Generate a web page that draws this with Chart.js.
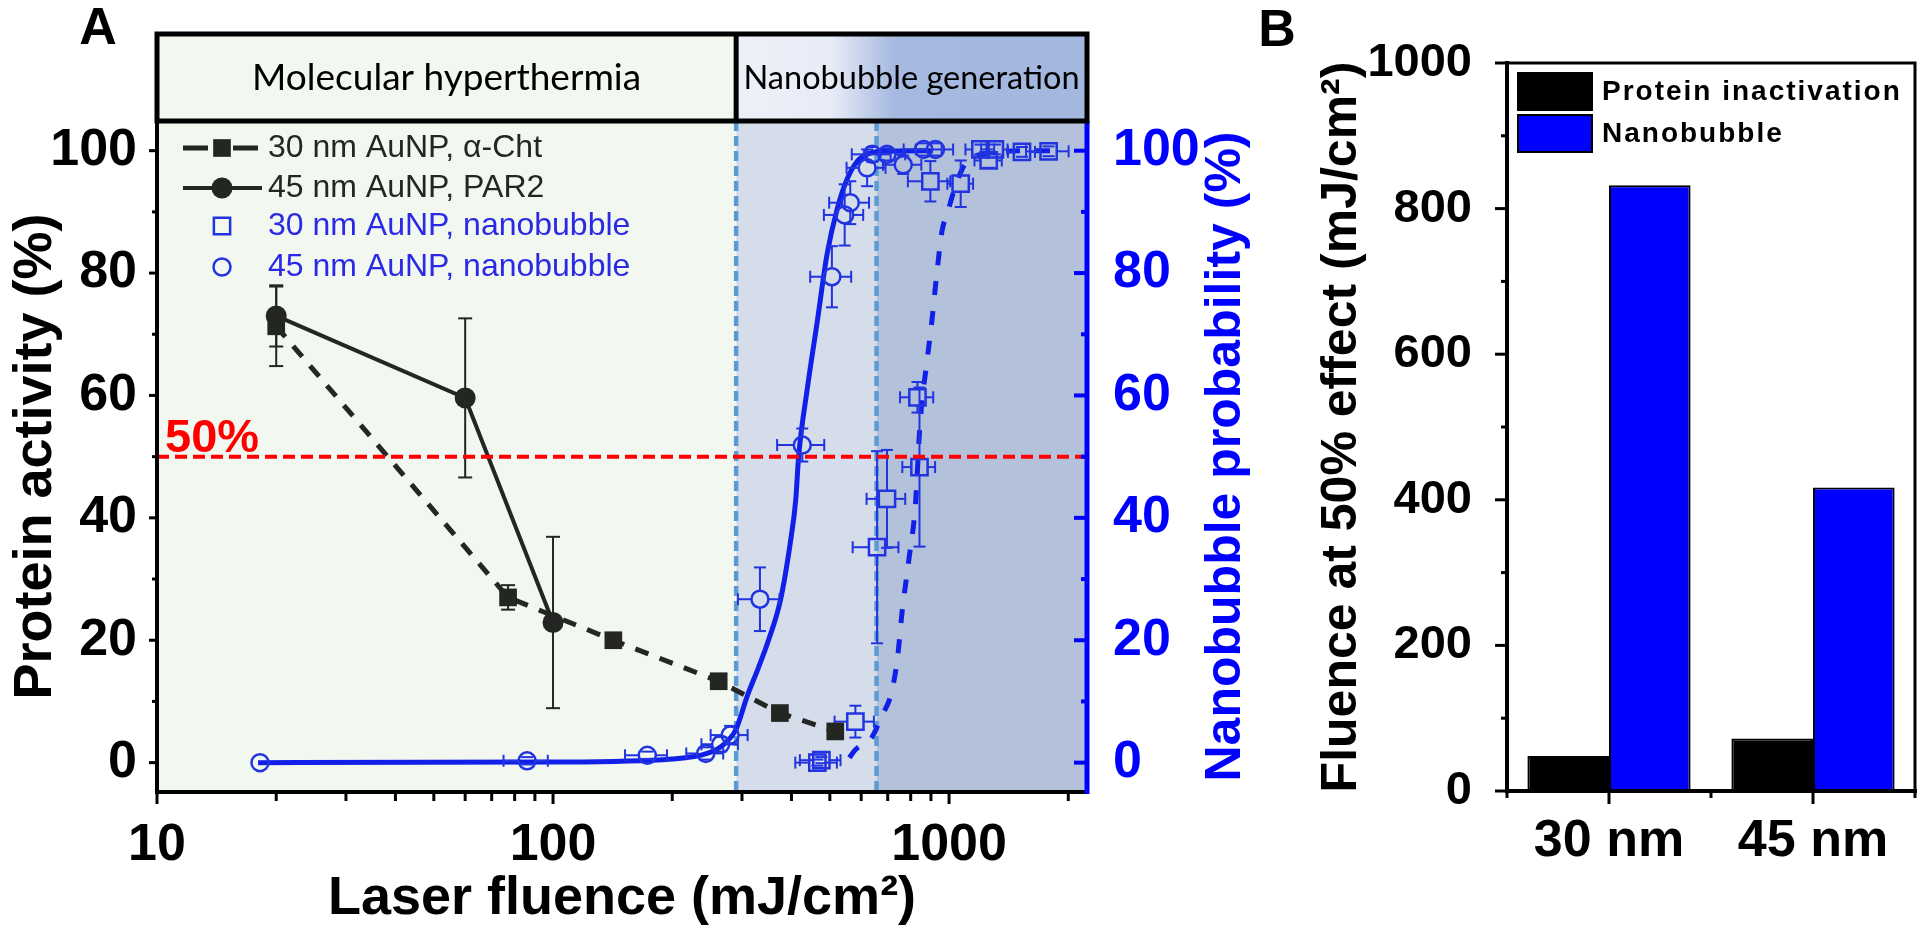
<!DOCTYPE html>
<html><head><meta charset="utf-8">
<script src="https://cdn.jsdelivr.net/npm/chart.js@4.4.1/dist/chart.umd.min.js"></script>
<style>
html,body{margin:0;padding:0;background:#fff;width:1920px;height:936px;overflow:hidden}
#a{position:absolute;left:0;top:0}
#b{position:absolute;left:1250px;top:0}
</style></head><body>
<canvas id="a" width="1270" height="936"></canvas>
<canvas id="b" width="670" height="936"></canvas>
<script>
// ---------------- DATA (panel A) ----------------
const chtX = [20, 77, 142, 262, 374, 516];            // 30 nm AuNP, alpha-Cht
const chtY = [71.3, 27.0, 20.0, 13.3, 8.1, 5.1];
const chtErr = [6.5, 2, 0.8, 0, 0, 0];

const parX = [20, 60, 100];                            // 45 nm AuNP, PAR2
const parY = [73, 59.6, 22.9];
const parErr = [5, 13, 14];

const nb30X = [465, 476, 580, 658, 697, 832, 842, 897, 1070, 1200, 1259, 1305, 1528, 1784];
const nb30Y = [0, 0.4, 6.7, 35.2, 43.1, 59.7, 48.3, 95, 94.6, 100.2, 98.4, 100.2, 99.8, 99.9];
const nb30XErr = [56, 56, 66, 87, 78, 80, 80, 110, 80, 100, 100, 100, 120, 220];
const nb30YErr = [0.5, 0.5, 2.6, 15.7, 8, 2.5, 13, 3.3, 3.8, 0.8, 1.2, 0.8, 0.8, 0.8];

const nb45X = [18.2, 86, 173, 243, 265, 280, 333, 426, 506, 545, 563, 621, 640, 697, 766, 863, 924];
const nb45Y = [0, 0.3, 1.2, 1.5, 3, 4.5, 26.7, 51.9, 79.4, 89.5, 91.5, 97.2, 99.4, 99.4, 97.7, 100.2, 100.2];
const nb45XErr = [0, 11, 21, 26, 28, 30, 40, 58, 60, 62, 65, 70, 72, 78, 85, 95, 100];
const nb45YErr = [0, 0.6, 0.6, 1, 1.2, 1.5, 5.2, 2.7, 5, 5, 3.5, 3, 1.2, 1, 1.5, 1, 1];

const fit45X = [18, 100, 200, 245, 270, 290, 309, 330, 350, 375, 397, 410, 417, 439, 465, 492, 523, 555, 587, 620, 680, 900];
const fit45Y = [0, 0.1, 0.6, 1.5, 3, 5.5, 10.8, 15.5, 20, 26.5, 35.8, 42.9, 50, 61.3, 72.2, 83.1, 90.7, 95.6, 98.3, 99.4, 99.9, 100];

const fit30X = [560, 580, 638, 678, 711, 740, 761, 791, 822, 846, 880, 905, 933, 960, 988, 1048, 1111, 1250, 1500, 1800];
const fit30Y = [0.8, 2.1, 4.1, 7.8, 10.8, 16.8, 24.6, 33, 42, 56, 65.7, 72.2, 80.4, 86.9, 89.6, 95, 98.3, 99.5, 100, 100];

const phaseBounds = [290, 656];
const phaseNames = ['Molecular hyperthermia', 'Nanobubble generation'];
const halfLevel = 50;

const xTickValues = [10,20,30,40,50,60,70,80,90,100,200,300,400,500,600,700,800,900,1000,2000];
const xTickLabeled = [10, 100, 1000];
const yTickValues = [0,10,20,30,40,50,60,70,80,90,100];
const yTickLabeled = [0,20,40,60,80,100];

// ---------------- DATA (panel B) ----------------
const sizeLabels = ['30 nm', '45 nm'];
const inactivationFluence = [48, 72];
const nanobubbleFluence = [832, 417];
const fluenceTicks = [0,100,200,300,400,500,600,700,800,900,1000];
const fluenceLabeled = [0,200,400,600,800,1000];

// ---------------- STYLE ----------------
const FONT = "'Liberation Sans', Arial, Helvetica, sans-serif";
const DARK = '#232622';
const BLUE_AXIS = '#0000ff';
const BLUE_MK = '#2233e0';
const BLUE_FIT = '#1020e8';
const BLUE_TXT = '#2a2ae6';

const pts = (xs, ys) => xs.map((x, i) => ({x, y: ys[i]}));
const has = (arr, v) => arr.some(a => Math.abs(a - v) < 1e-6);

function line(ctx, x1, y1, x2, y2) { ctx.beginPath(); ctx.moveTo(x1, y1); ctx.lineTo(x2, y2); ctx.stroke(); }

function drawErrBars(chart, ds) {
  if (!ds.errX && !ds.errY) return;
  const ctx = chart.ctx, xs = chart.scales.x, ys = chart.scales[ds.yAxisID];
  const r = ds.gapR || 0, cap = ds.capHalf || 6;
  ctx.save();
  ctx.strokeStyle = ds.errColor; ctx.lineWidth = ds.errWidth; ctx.setLineDash([]);
  ds.data.forEach((p, i) => {
    const px = xs.getPixelForValue(p.x), py = ys.getPixelForValue(p.y);
    const ey = ds.errY ? ds.errY[i] : 0, ex = ds.errX ? ds.errX[i] : 0;
    if (ey > 0) {
      const t = ys.getPixelForValue(p.y + ey), b = ys.getPixelForValue(p.y - ey);
      if (py - r > t) line(ctx, px, py - r, px, t);
      if (py + r < b) line(ctx, px, py + r, px, b);
      line(ctx, px - cap, t, px + cap, t); line(ctx, px - cap, b, px + cap, b);
    }
    if (ex > 0) {
      const l = xs.getPixelForValue(p.x - ex), rr = xs.getPixelForValue(p.x + ex);
      if (px - r > l) line(ctx, px - r, py, l, py);
      if (px + r < rr) line(ctx, px + r, py, rr, py);
      line(ctx, l, py - cap, l, py + cap); line(ctx, rr, py - cap, rr, py + cap);
    }
  });
  ctx.restore();
}

function marker(ctx, style, x, y, r, fill, stroke, lw) {
  ctx.save(); ctx.setLineDash([]);
  ctx.beginPath();
  if (style === 'rect') { const s = r * Math.SQRT1_2; ctx.rect(x - s, y - s, 2 * s, 2 * s); }
  else ctx.arc(x, y, r, 0, Math.PI * 2);
  if (fill) { ctx.fillStyle = fill; ctx.fill(); }
  if (stroke) { ctx.strokeStyle = stroke; ctx.lineWidth = lw; ctx.stroke(); }
  ctx.restore();
}

const plotA = {
  id: 'plotA',
  beforeDatasetsDraw(chart) {
    const {ctx, chartArea: ca, scales: {x}} = chart;
    const b = phaseBounds.map(v => x.getPixelForValue(v));
    ctx.save();
    ctx.fillStyle = '#f2f7ef'; ctx.fillRect(ca.left, ca.top, b[0] - ca.left, ca.bottom - ca.top);
    ctx.fillStyle = '#d5ddea'; ctx.fillRect(b[0], ca.top, b[1] - b[0], ca.bottom - ca.top);
    ctx.fillStyle = '#b3c2da'; ctx.fillRect(b[1], ca.top, ca.right - b[1], ca.bottom - ca.top);
    ctx.strokeStyle = '#5b9bd5'; ctx.lineWidth = 4.5; ctx.setLineDash([10, 5]);
    b.forEach(px => line(ctx, px, ca.top, px, ca.bottom));
    ctx.restore();
  },
  beforeDatasetDraw(chart, args) {
    drawErrBars(chart, chart.data.datasets[args.index]);
  },
  afterDatasetsDraw(chart) {
    const {ctx, chartArea: ca, scales: {x, y, y2}} = chart;
    ctx.save();
    // 50% line
    const hy = y.getPixelForValue(halfLevel);
    ctx.strokeStyle = '#ff0000'; ctx.lineWidth = 4; ctx.setLineDash([12, 6]);
    line(ctx, ca.left, hy, ca.right, hy);
    ctx.setLineDash([]);
    ctx.fillStyle = '#ff0000'; ctx.font = `bold 47px ${FONT}`; ctx.textAlign = 'left'; ctx.textBaseline = 'alphabetic';
    ctx.fillText('50%', ca.left + 8, hy - 5);
    // axes
    ctx.strokeStyle = '#000'; ctx.lineWidth = 4;
    line(ctx, ca.left, ca.top, ca.left, ca.bottom + 2);
    line(ctx, ca.left - 2, ca.bottom, ca.right, ca.bottom);
    ctx.strokeStyle = BLUE_AXIS; ctx.lineWidth = 5;
    line(ctx, ca.right, ca.top, ca.right, ca.bottom + 2);
    // ticks
    ctx.lineWidth = 3; ctx.strokeStyle = '#000';
    xTickValues.forEach(v => {
      const px = x.getPixelForValue(v); const L = has(xTickLabeled, v) ? 12 : 9;
      line(ctx, px, ca.bottom, px, ca.bottom + L);
    });
    yTickValues.forEach(v => {
      const py = y.getPixelForValue(v); const L = has(yTickLabeled, v) ? 8 : 5;
      line(ctx, ca.left, py, ca.left - L, py);
    });
    ctx.strokeStyle = BLUE_AXIS; ctx.lineWidth = 4;
    yTickValues.forEach(v => {
      const py = y2.getPixelForValue(v); const L = has(yTickLabeled, v) ? 13 : 6;
      line(ctx, ca.right, py, ca.right - L, py);
    });
    // legend
    const lx = 183, lx2 = 258, mx = 222, tx = 268;
    const rows = [148, 188, 226, 267];
    ctx.lineCap = 'butt';
    ctx.strokeStyle = DARK; ctx.lineWidth = 5;
    line(ctx, lx, rows[0], lx + 25, rows[0]); line(ctx, lx2 - 25, rows[0], lx2, rows[0]);
    marker(ctx, 'rect', mx, rows[0], 12.5, DARK);
    ctx.lineWidth = 4; line(ctx, lx, rows[1], lx2 + 4, rows[1]);
    marker(ctx, 'circle', mx, rows[1], 10.5, DARK);
    marker(ctx, 'rect', mx, rows[2], 11.5, null, BLUE_MK, 2.5);
    marker(ctx, 'circle', mx, rows[3], 8.5, null, BLUE_MK, 2.5);
    ctx.font = `32px ${FONT}`; ctx.textBaseline = 'middle'; ctx.textAlign = 'left';
    const labs = chart.data.datasets.slice(0, 4).map(d => d.label);
    ctx.fillStyle = DARK; ctx.fillText(labs[0], tx, rows[0]); ctx.fillText(labs[1], tx, rows[1]);
    ctx.fillStyle = BLUE_TXT; ctx.fillText(labs[2], tx, rows[2]); ctx.fillText(labs[3], tx, rows[3]);
    ctx.restore();
  },
  afterDraw(chart) {
    const {ctx, chartArea: ca, scales: {x}} = chart;
    const hy0 = 34, hy1 = ca.top, hm = x.getPixelForValue(phaseBounds[0]);
    ctx.save();
    ctx.fillStyle = '#f2f7ef'; ctx.fillRect(ca.left, hy0, hm - ca.left, hy1 - hy0);
    const g = ctx.createLinearGradient(hm, 0, ca.right, 0);
    g.addColorStop(0, '#eef0f9'); g.addColorStop(0.27, '#e8ecf6'); g.addColorStop(0.45, '#a6b9e0'); g.addColorStop(1, '#a3b7df');
    ctx.fillStyle = g; ctx.fillRect(hm, hy0, ca.right - hm, hy1 - hy0);
    ctx.strokeStyle = '#000'; ctx.lineWidth = 5; ctx.setLineDash([]);
    ctx.strokeRect(ca.left, hy0, ca.right - ca.left, hy1 - hy0);
    line(ctx, hm, hy0, hm, hy1);
    ctx.fillStyle = '#000'; ctx.textAlign = 'center'; ctx.textBaseline = 'middle';
    ctx.font = `37px Lato, 'Open Sans', sans-serif`;
    ctx.fillText(phaseNames[0], (ca.left + hm) / 2, (hy0 + hy1) / 2 + 1);
    ctx.font = `32.5px Lato, 'Open Sans', sans-serif`;
    ctx.fillText(phaseNames[1], (hm + ca.right) / 2, (hy0 + hy1) / 2 + 1);
    // titles
    const cy = (ca.top + ca.bottom) / 2;
    ctx.font = `bold 54px ${FONT}`;
    ctx.save(); ctx.translate(36, cy); ctx.rotate(-Math.PI / 2); ctx.fillText('Protein activity (%)', 0, 0); ctx.restore();
    ctx.fillStyle = BLUE_AXIS; ctx.font = `bold 50px ${FONT}`;
    ctx.save(); ctx.translate(1226, cy); ctx.rotate(-Math.PI / 2); ctx.fillText('Nanobubble probability (%)', 0, 0); ctx.restore();
    ctx.fillStyle = '#000'; ctx.font = `bold 54px ${FONT}`;
    ctx.fillText('Laser fluence (mJ/cm²)', (ca.left + ca.right) / 2, 899);
    ctx.font = `bold 52px ${FONT}`;
    ctx.fillText('A', 98, 30);
    ctx.restore();
  }
};

const tickFontA = {family: FONT, size: 52, weight: 'bold'};

new Chart(document.getElementById('a'), {
  type: 'line',
  data: {
    datasets: [
      {label: '30 nm AuNP, \u03b1-Cht', data: pts(chtX, chtY), yAxisID: 'y', borderColor: DARK, backgroundColor: DARK,
       borderWidth: 5, borderDash: [14, 12], pointStyle: 'rect', pointRadius: 12.5, pointBackgroundColor: DARK, pointBorderWidth: 0,
       errY: chtErr, errColor: DARK, errWidth: 2, capHalf: 7, gapR: 0, order: 1, tension: 0},
      {label: '45 nm AuNP, PAR2', data: pts(parX, parY), yAxisID: 'y', borderColor: DARK, backgroundColor: DARK,
       borderWidth: 4, pointStyle: 'circle', pointRadius: 10.5, pointBackgroundColor: DARK, pointBorderWidth: 0,
       errY: parErr, errColor: DARK, errWidth: 2, capHalf: 7, gapR: 0, order: 2, tension: 0},
      {label: '30 nm AuNP, nanobubble', data: pts(nb30X, nb30Y), yAxisID: 'y2', showLine: false, pointStyle: 'rect',
       pointRadius: 11.5, pointBorderColor: BLUE_MK, pointBackgroundColor: 'rgba(0,0,0,0)', pointBorderWidth: 2.5,
       errX: nb30XErr, errY: nb30YErr, errColor: BLUE_MK, errWidth: 2, capHalf: 6, gapR: 8, order: 3},
      {label: '45 nm AuNP, nanobubble', data: pts(nb45X, nb45Y), yAxisID: 'y2', showLine: false, pointStyle: 'circle',
       pointRadius: 8.5, pointBorderColor: BLUE_MK, pointBackgroundColor: 'rgba(0,0,0,0)', pointBorderWidth: 2.5,
       errX: nb45XErr, errY: nb45YErr, errColor: BLUE_MK, errWidth: 2, capHalf: 6, gapR: 8.5, order: 4},
      {label: 'fit 30 nm', data: pts(fit30X, fit30Y), yAxisID: 'y2', borderColor: BLUE_FIT, borderWidth: 5,
       borderDash: [14, 16], pointRadius: 0, cubicInterpolationMode: 'monotone', order: 5},
      {label: 'fit 45 nm', data: pts(fit45X, fit45Y), yAxisID: 'y2', borderColor: BLUE_FIT, borderWidth: 5,
       pointRadius: 0, cubicInterpolationMode: 'monotone', order: 6}
    ]
  },
  options: {
    responsive: false, animation: false, events: [],
    layout: {padding: {top: 121, left: 0, right: 0, bottom: 0}},
    plugins: {legend: {display: false}, tooltip: {enabled: false}},
    scales: {
      x: {type: 'logarithmic', min: 10, max: 2230,
          afterBuildTicks: s => { s.ticks = xTickValues.map(v => ({value: v})); },
          ticks: {autoSkip: false, maxRotation: 0, color: '#000', font: tickFontA, padding: 14,
                  callback: v => has(xTickLabeled, v) ? String(v) : ''},
          grid: {display: false}, border: {display: false},
          afterFit: s => { s.height = 144; }},
      y: {position: 'left', min: -4.8, max: 104.85,
          afterBuildTicks: s => { s.ticks = yTickValues.map(v => ({value: v})); },
          ticks: {autoSkip: false, color: '#000', font: tickFontA, padding: 12,
                  callback: v => has(yTickLabeled, v) ? String(v) : ''},
          grid: {display: false}, border: {display: false},
          afterFit: s => { s.width = 157; }},
      y2: {position: 'right', min: -4.8, max: 104.85,
          afterBuildTicks: s => { s.ticks = yTickValues.map(v => ({value: v})); },
          ticks: {autoSkip: false, color: BLUE_AXIS, font: tickFontA, padding: 18,
                  callback: v => has(yTickLabeled, v) ? String(v) : ''},
          grid: {display: false}, border: {display: false},
          afterFit: s => { s.width = 183; }}
    }
  },
  plugins: [plotA]
});

// ---------------- Panel B ----------------
const plotB = {
  id: 'plotB',
  afterDatasetsDraw(chart) {
    const {ctx, chartArea: ca, scales: {x, y}} = chart;
    ctx.save(); ctx.setLineDash([]);
    ctx.strokeStyle = '#000'; ctx.lineWidth = 3;
    ctx.strokeRect(ca.left, ca.top, ca.right - ca.left, ca.bottom - ca.top);
    ctx.lineWidth = 4;
    line(ctx, ca.left, ca.top - 2, ca.left, ca.bottom + 2);
    line(ctx, ca.left - 2, ca.bottom, ca.right + 2, ca.bottom);
    ctx.lineWidth = 3;
    fluenceTicks.forEach(v => {
      const py = y.getPixelForValue(v); const L = has(fluenceLabeled, v) ? 12 : 6;
      line(ctx, ca.left, py, ca.left - L, py);
    });
    const centers = sizeLabels.map((_, i) => x.getPixelForValue(i));
    centers.forEach(px => line(ctx, px, ca.bottom, px, ca.bottom + 13));
    const half = (centers[1] - centers[0]) / 2;
    [centers[0] - half, centers[0] + half, centers[1] + half].forEach(px => line(ctx, px, ca.bottom, px, ca.bottom + 7));
    // legend
    const ds = chart.data.datasets;
    const lx = ca.left + 11, lw = 74, lh = 37, rows = [73, 115];
    ds.forEach((d, i) => {
      ctx.fillStyle = d.backgroundColor; ctx.fillRect(lx, rows[i], lw, lh);
      ctx.strokeStyle = '#000'; ctx.lineWidth = 2; ctx.strokeRect(lx, rows[i], lw, lh);
    });
    ctx.fillStyle = '#000'; ctx.font = `bold 28px ${FONT}`; ctx.textBaseline = 'middle'; ctx.textAlign = 'left';
    ctx.letterSpacing = '2px';
    ds.forEach((d, i) => ctx.fillText(d.label, lx + lw + 10, rows[i] + lh / 2 + 1));
    ctx.restore();
  },
  afterDraw(chart) {
    const {ctx, chartArea: ca} = chart;
    ctx.save();
    ctx.fillStyle = '#000'; ctx.textAlign = 'center'; ctx.textBaseline = 'middle';
    ctx.font = `bold 50px ${FONT}`;
    ctx.translate(92, (ca.top + ca.bottom) / 2); ctx.rotate(-Math.PI / 2);
    ctx.fillText('Fluence at 50% effect (mJ/cm²)', 0, 0);
    ctx.restore();
    ctx.save();
    ctx.fillStyle = '#000'; ctx.textAlign = 'center'; ctx.textBaseline = 'middle';
    ctx.font = `bold 52px ${FONT}`;
    ctx.fillText('B', 27, 32);
    ctx.restore();
  }
};

new Chart(document.getElementById('b'), {
  type: 'bar',
  data: {
    labels: sizeLabels,
    datasets: [
      {label: 'Protein inactivation', data: inactivationFluence, backgroundColor: '#000000', borderColor: '#000', borderWidth: 2},
      {label: 'Nanobubble', data: nanobubbleFluence, backgroundColor: '#0000ff', borderColor: '#000', borderWidth: 2}
    ]
  },
  options: {
    responsive: false, animation: false, events: [],
    layout: {padding: {top: 63, right: 5, left: 0, bottom: 0}},
    datasets: {bar: {categoryPercentage: 0.8, barPercentage: 1.0}},
    plugins: {legend: {display: false}, tooltip: {enabled: false}},
    scales: {
      x: {grid: {display: false}, border: {display: false},
          ticks: {color: '#000', font: {family: FONT, size: 52, weight: 'bold'}, padding: 11, maxRotation: 0},
          afterFit: s => { s.height = 145; }},
      y: {min: 0, max: 1000,
          afterBuildTicks: s => { s.ticks = fluenceTicks.map(v => ({value: v})); },
          ticks: {autoSkip: false, color: '#000', font: {family: FONT, size: 47, weight: 'bold'}, padding: 27,
                  callback: v => has(fluenceLabeled, v) ? String(v) : ''},
          grid: {display: false}, border: {display: false},
          afterFit: s => { s.width = 257; }}
    }
  },
  plugins: [plotB]
});
</script>
</body></html>
